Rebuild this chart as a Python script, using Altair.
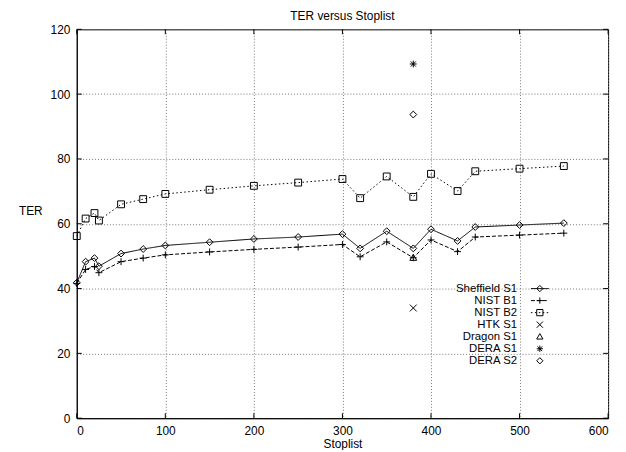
import altair as alt
import pandas as pd

# ---- data ----
stoplist = [0, 10, 20, 25, 50, 75, 100, 150, 200, 250, 300, 320, 350, 380, 400, 430, 450, 500, 550]
sheffield_s1 = [41.8, 48.3, 49.4, 46.9, 50.8, 52.2, 53.3, 54.3, 55.3, 55.9, 56.8, 52.4, 57.7, 52.4, 58.3, 54.7, 59.0, 59.6, 60.2]
nist_b1 = [41.6, 45.9, 46.8, 44.9, 48.3, 49.4, 50.4, 51.3, 52.1, 52.8, 53.6, 49.8, 54.4, 49.5, 55.0, 51.4, 55.9, 56.5, 57.1]
nist_b2 = [56.2, 61.6, 63.3, 61.0, 66.0, 67.6, 69.2, 70.5, 71.7, 72.7, 73.8, 67.9, 74.6, 68.3, 75.4, 70.1, 76.2, 77.0, 77.8]

single_stoplist = [380]
htk_s1 = [34.0]
dragon_s1 = [49.5]
dera_s1 = [109.3]
dera_s2 = [93.7]

series_names = ["Sheffield S1", "NIST B1", "NIST B2", "HTK S1", "Dragon S1", "DERA S1", "DERA S2"]
x_ticks = [0, 100, 200, 300, 400, 500, 600]
y_ticks = [0, 20, 40, 60, 80, 100, 120]

# ---- styling ----
FONT = "Liberation Sans"
W, H = 537, 393
shapes = [
    "M0,-1L1,0L0,1L-1,0Z",                                   # diamond
    "M-1,0L1,0M0,-1L0,1",                                    # plus
    "M-1,-1L1,-1L1,1L-1,1Z",                                 # square
    "M-1,-1L1,1M-1,1L1,-1",                                  # x
    "M0,-1L1,0.75L-1,0.75Z",                                 # triangle
    "M-1,0L1,0M0,-1L0,1M-0.75,-0.75L0.75,0.75M-0.75,0.75L0.75,-0.75",  # star
    "M0,-1L1,0L0,1L-1,0Z",                                   # diamond
]
dashes = [[1, 0], [4, 2], [1.5, 2.5], [1, 0], [1, 0], [1, 0], [1, 0]]

rows = []
for name, vals in [("Sheffield S1", sheffield_s1), ("NIST B1", nist_b1), ("NIST B2", nist_b2)]:
    for x, y in zip(stoplist, vals):
        rows.append({"series": name, "stoplist": x, "ter": y})
line_df = pd.DataFrame(rows)
pts_rows = list(rows)
for name, vals in [("HTK S1", htk_s1), ("Dragon S1", dragon_s1), ("DERA S1", dera_s1), ("DERA S2", dera_s2)]:
    for x, y in zip(single_stoplist, vals):
        pts_rows.append({"series": name, "stoplist": x, "ter": y})
pts_df = pd.DataFrame(pts_rows)

xs = alt.Scale(domain=[0, 600], nice=False, zero=False)
ys = alt.Scale(domain=[0, 120], nice=False)
shape_scale = alt.Scale(domain=series_names, range=shapes)
dash_scale = alt.Scale(domain=series_names, range=dashes)

x_enc = alt.X("stoplist:Q", scale=xs, title="Stoplist",
              axis=alt.Axis(values=x_ticks, grid=True, gridDash=[1, 2], gridColor="#777",
                            tickSize=0, labelPadding=7, titlePadding=3,
                            domainColor="black", labelFont=FONT, titleFont=FONT,
                            labelFontSize=12, titleFontSize=12, titleFontWeight="normal",
                            labelColor="black", titleColor="black"))
y_enc = alt.Y("ter:Q", scale=ys, title="TER",
              axis=alt.Axis(values=y_ticks, grid=True, gridDash=[1, 2], gridColor="#777",
                            tickSize=0, labelPadding=7, domainColor="black",
                            labelFont=FONT, titleFont=FONT, labelFontSize=12, titleFontSize=12,
                            titleFontWeight="normal", titleAngle=0, titleAlign="center",
                            titleBaseline="middle", titleX=-47, titleY=183,
                            labelColor="black", titleColor="black"))

lines = alt.Chart(line_df).mark_line(color="black", strokeWidth=1).encode(
    x=x_enc, y=y_enc,
    strokeDash=alt.StrokeDash("series:N", scale=dash_scale, legend=None),
)
points = alt.Chart(pts_df).mark_point(filled=False, color="black", strokeWidth=1, size=48, opacity=1).encode(
    x=alt.X("stoplist:Q", scale=xs),
    y=alt.Y("ter:Q", scale=ys),
    shape=alt.Shape("series:N", scale=shape_scale, legend=None),
)

xt_df = pd.DataFrame({"stoplist": x_ticks})
yt_df = pd.DataFrame({"ter": y_ticks})
tick_style = dict(color="black", strokeWidth=1)
xt_bottom = alt.Chart(xt_df).mark_rule(**tick_style).encode(
    x=alt.X("stoplist:Q", scale=xs), y=alt.value(H), y2=alt.value(H - 5))
xt_top = alt.Chart(xt_df).mark_rule(**tick_style).encode(
    x=alt.X("stoplist:Q", scale=xs), y=alt.value(0), y2=alt.value(5))
yt_left = alt.Chart(yt_df).mark_rule(**tick_style).encode(
    y=alt.Y("ter:Q", scale=ys), x=alt.value(0), x2=alt.value(5))
yt_right = alt.Chart(yt_df).mark_rule(**tick_style).encode(
    y=alt.Y("ter:Q", scale=ys), x=alt.value(W), x2=alt.value(W - 5))

main = alt.layer(lines, points, xt_bottom, xt_top, yt_left, yt_right)

# ---- custom legend (labels left of samples, as in the reference) ----
leg_df = pd.DataFrame({"series": series_names, "has_line": [1, 1, 1, 0, 0, 0, 0]})
leg_y = alt.Y("series:N", scale=alt.Scale(type="point", domain=series_names, range=[262, 335], padding=0), axis=None)
leg_text = alt.Chart(leg_df).mark_text(align="right", baseline="middle", font=FONT, fontSize=11.5, color="black").encode(
    y=leg_y, x=alt.value(445), text="series:N")
leg_line = alt.Chart(leg_df).transform_filter("datum.has_line == 1").mark_rule(color="black", strokeWidth=1).encode(
    y=leg_y, x=alt.value(459), x2=alt.value(477),
    strokeDash=alt.StrokeDash("series:N", scale=dash_scale, legend=None))
leg_pts = alt.Chart(leg_df).mark_point(filled=False, color="black", strokeWidth=1, size=40, opacity=1).encode(
    y=leg_y, x=alt.value(468),
    shape=alt.Shape("series:N", scale=shape_scale, legend=None))
legend = alt.layer(leg_text, leg_line, leg_pts)

chart = alt.layer(main, legend).resolve_scale(y="independent").properties(
    width=W, height=H,
    title=alt.Title("TER versus Stoplist", font=FONT, fontSize=12, fontWeight="normal", color="black", offset=0),
    padding={"left": 69.5, "top": 19.2, "right": 10, "bottom": 30},
    autosize=alt.AutoSizeParams(type="none"),
).configure_view(stroke="black", strokeWidth=1)

chart.save("out.html", embed_options={"renderer": "svg", "actions": False})
